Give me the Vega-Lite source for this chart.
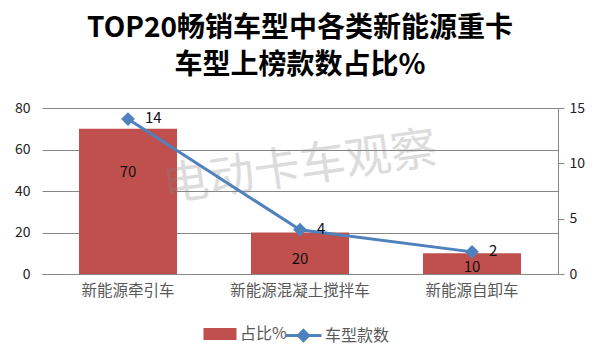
{
  "$schema": "https://vega.github.io/schema/vega-lite/v6.json",
  "width": 516,
  "height": 166,
  "autosize": {"type": "none"},
  "padding": {"left": 42, "top": 108, "right": 42, "bottom": 86},
  "background": "white",
  "config": {"font": "Noto Sans CJK SC", "view": {"stroke": null}},
  "title": {
    "text": ["TOP20畅销车型中各类新能源重卡", "车型上榜款数占比%"],
    "fontSize": 28,
    "fontWeight": "bold",
    "lineHeight": 37,
    "color": "black",
    "anchor": "middle",
    "offset": 21
  },
  "data": {
    "values": [
      {"type": "新能源牵引车", "pct": 70, "count": 14},
      {"type": "新能源混凝土搅拌车", "pct": 20, "count": 4},
      {"type": "新能源自卸车", "pct": 10, "count": 2}
    ]
  },
  "encoding": {
    "x": {
      "field": "type",
      "type": "nominal",
      "sort": null,
      "scale": {"paddingInner": 0.43, "paddingOuter": 0.215},
      "axis": {
        "title": null,
        "labelAngle": 0,
        "labelFontSize": 15.5,
        "labelColor": "#595959",
        "domainColor": "#868686",
        "ticks": false,
        "labelPadding": 9
      }
    }
  },
  "layer": [
    {
      "layer": [
        {
          "mark": {"type": "bar", "color": "#C0504D"},
          "encoding": {
            "y": {
              "field": "pct",
              "type": "quantitative",
              "scale": {"domain": [0, 80]},
              "axis": {
                "title": null,
                "values": [0, 20, 40, 60, 80],
                "domain": false,
                "ticks": false,
                "gridColor": "#868686",
                "labelFontSize": 14,
                "labelColor": "#222222",
                "labelPadding": 12
              }
            },
            "fill": {
              "datum": "占比%",
              "type": "nominal",
              "scale": {"range": ["#C0504D"]},
              "legend": {
                "title": null,
                "orient": "none",
                "direction": "horizontal",
                "legendX": 166,
                "legendY": 214,
                "symbolType": "M-1.4,-0.5H1.4V0.5H-1.4Z",
                "symbolSize": 556,
                "symbolStrokeWidth": 0,
                "labelFontSize": 16,
                "labelColor": "#595959",
                "labelOffset": 8
              }
            }
          }
        },
        {
          "transform": [{"calculate": "datum.pct > 50 ? datum.pct * 0.7 : datum.pct * 0.35", "as": "lp"}],
          "mark": {"type": "text", "fontSize": 15, "color": "#111111", "baseline": "middle"},
          "encoding": {
            "y": {"field": "lp", "type": "quantitative"},
            "text": {"field": "pct", "type": "quantitative"}
          }
        },
        {
          "mark": {"type": "text", "fontSize": 46, "color": "#888888", "opacity": 0.1, "angle": 352, "baseline": "middle", "align": "center"},
          "encoding": {
            "x": {"datum": "新能源混凝土搅拌车"},
            "y": {"datum": 51},
            "text": {"value": "电动卡车观察"}
          }
        }
      ]
    },
    {
      "layer": [
        {
          "mark": {"type": "line", "color": "#4F81BD", "strokeWidth": 3, "point": {"shape": "diamond", "size": 120, "filled": true, "color": "#4F81BD"}},
          "encoding": {
            "y": {
              "field": "count",
              "type": "quantitative",
              "scale": {"domain": [0, 15]},
              "axis": {
                "orient": "right",
                "title": null,
                "values": [0, 5, 10, 15],
                "grid": false,
                "domain": true,
                "domainColor": "#868686",
                "ticks": true,
                "tickColor": "#868686",
                "tickSize": 6,
                "labelFontSize": 14,
                "labelColor": "#222222",
                "labelPadding": 5
              }
            },
            "stroke": {
              "datum": "车型款数",
              "type": "nominal",
              "scale": {"range": ["#4F81BD"]},
              "legend": {
                "title": null,
                "orient": "none",
                "direction": "horizontal",
                "legendX": 248,
                "legendY": 214,
                "symbolType": "M-1.5,0H1.5M0,-0.42L0.42,0L0,0.42L-0.42,0Z",
                "symbolSize": 576,
                "symbolFillColor": "#4F81BD",
                "symbolStrokeColor": "#4F81BD",
                "symbolStrokeWidth": 3,
                "labelFontSize": 16,
                "labelColor": "#595959",
                "labelOffset": 8
              }
            }
          }
        },
        {
          "mark": {"type": "text", "fontSize": 15, "color": "#111111", "align": "left", "baseline": "middle", "dx": 17, "dy": -1},
          "encoding": {
            "y": {"field": "count", "type": "quantitative", "scale": {"domain": [0, 15]}},
            "text": {"field": "count", "type": "quantitative"}
          }
        }
      ]
    }
  ],
  "resolve": {"scale": {"y": "independent", "fill": "independent", "stroke": "independent"}}
}
